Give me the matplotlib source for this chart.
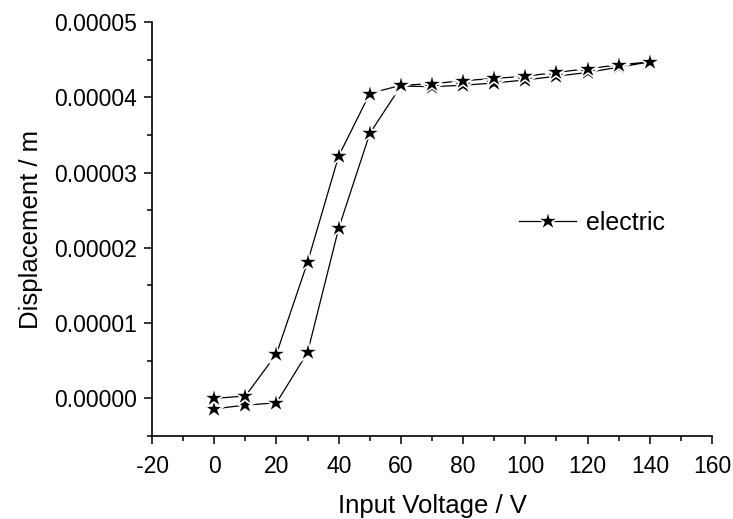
import numpy as np
import matplotlib
matplotlib.use('Agg')
import matplotlib.pyplot as plt
from matplotlib.ticker import MultipleLocator, FormatStrFormatter

# rising branch (lower) then falling branch (upper)
volt_up = [0, 10, 20, 30, 40, 50, 60, 70, 80, 90, 100, 110, 120, 130, 140]
disp_up = [-0.14e-5, -0.09e-5, -0.06e-5, 0.61e-5, 2.26e-5, 3.52e-5, 4.15e-5,
           4.14e-5, 4.16e-5, 4.19e-5, 4.23e-5, 4.28e-5, 4.33e-5, 4.40e-5, 4.47e-5]
volt_down = [130, 120, 110, 100, 90, 80, 70, 60, 50, 40, 30, 20, 10, 0]
disp_down = [4.43e-5, 4.38e-5, 4.33e-5, 4.28e-5, 4.25e-5, 4.22e-5, 4.18e-5,
             4.16e-5, 4.05e-5, 3.22e-5, 1.81e-5, 0.59e-5, 0.03e-5, 0.0]

x_ticks = [-20, 0, 20, 40, 60, 80, 100, 120, 140, 160]


def main():
    plt.rcParams['font.family'] = ['Liberation Sans', 'DejaVu Sans']
    plt.rcParams['axes.unicode_minus'] = False
    fig = plt.figure(figsize=(7.33, 5.19), dpi=100)
    ax = fig.add_axes([0.2074, 0.160, 0.764, 0.7976])

    x = volt_up + volt_down
    y = disp_up + disp_down
    ax.plot(x, y, color='black', lw=0.9, marker='*', markersize=16,
            markerfacecolor='black', markeredgecolor='white',
            markeredgewidth=1.2, label='electric')

    ax.set_xlim(-20, 160)
    ax.set_ylim(-0.000005, 0.00005)
    ax.set_xticks(x_ticks)
    ax.xaxis.set_minor_locator(MultipleLocator(10))
    ax.yaxis.set_major_locator(MultipleLocator(0.00001))
    ax.yaxis.set_minor_locator(MultipleLocator(0.000005))
    ax.yaxis.set_major_formatter(FormatStrFormatter('%.5f'))

    for s in ['top', 'right']:
        ax.spines[s].set_visible(False)
    for s in ['left', 'bottom']:
        ax.spines[s].set_linewidth(1.2)

    ax.tick_params(which='major', direction='out', length=6, width=1.1)
    ax.tick_params(which='minor', direction='out', length=3.5, width=1.1)
    ax.tick_params(axis='y', labelsize=16.5, pad=5)
    ax.tick_params(axis='x', labelsize=16.5, pad=8)

    ax.set_xlabel('Input Voltage / V', fontsize=18.5, labelpad=11)
    ax.set_ylabel('Displacement / m', fontsize=18.5, labelpad=8)

    ax.legend(loc='center left', bbox_to_anchor=(0.655, 0.514),
              frameon=False, fontsize=18, handlelength=2.3,
              handletextpad=0.4, borderpad=0, borderaxespad=0,
              markerscale=1.0)

    plt.savefig('out.png', dpi=100)


if __name__ == '__main__':
    main()
